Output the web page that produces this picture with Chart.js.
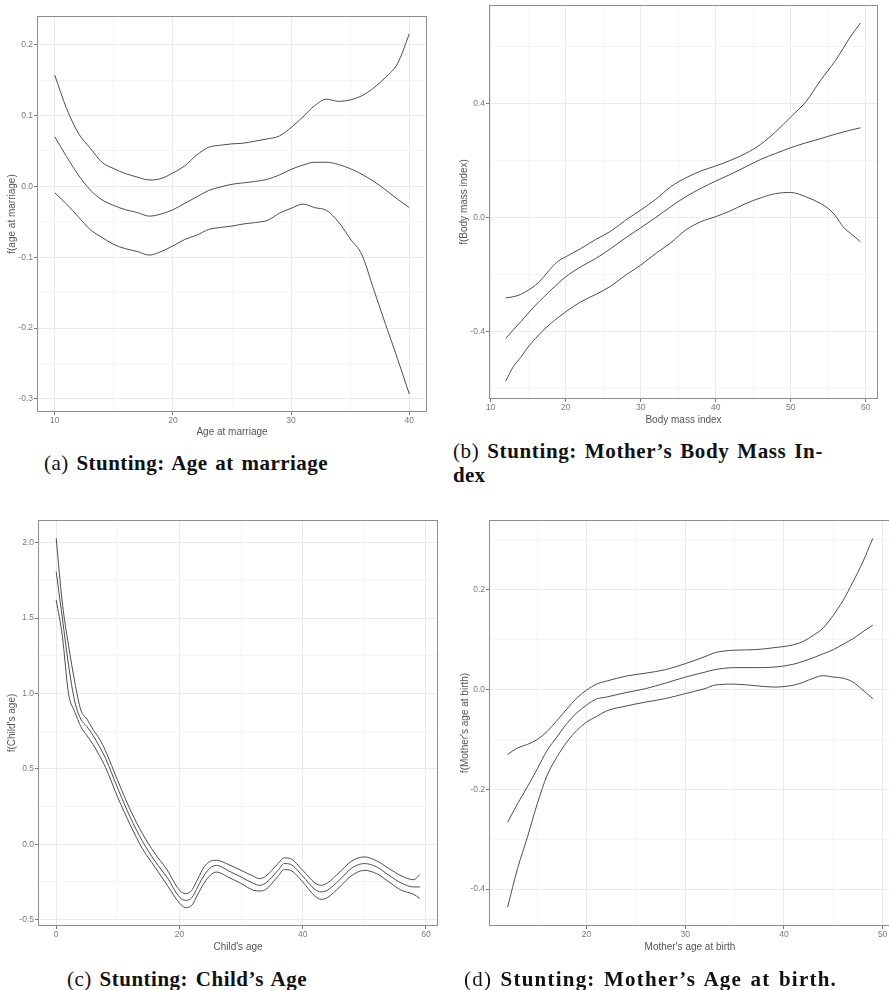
<!DOCTYPE html>
<html>
<head>
<meta charset="utf-8">
<script src="https://cdn.jsdelivr.net/npm/chart.js@4.4.1/dist/chart.umd.min.js"></script>
<style>
html, body { margin: 0; padding: 0; background: #fff; width: 889px; height: 990px; overflow: hidden; }
.panel { position: absolute; }
.cap { position: absolute; font-family: "Liberation Serif", "Times New Roman", serif; font-size: 21px; line-height: 24px; color: #111; white-space: nowrap; letter-spacing: 0.3px; word-spacing: 2px; }
.cap b { font-weight: bold; }
.fit { display: inline-block; }
</style>
</head>
<body>

<div class="panel" style="left:0;top:0;width:440px;height:445px"><canvas id="chartA"></canvas></div>
<div class="panel" style="left:445px;top:-10px;width:445px;height:445px"><canvas id="chartB"></canvas></div>
<div class="panel" style="left:0;top:505px;width:450px;height:450px"><canvas id="chartC"></canvas></div>
<div class="panel" style="left:445px;top:505px;width:460px;height:450px"><canvas id="chartD"></canvas></div>

<div class="cap" style="left:44px;top:451px"><span class="fit" data-w="284">(a) <b>Stunting: Age at marriage</b></span></div>
<div class="cap" style="left:453px;top:439px"><span class="fit" data-w="370">(b) <b>Stunting: Mother’s Body Mass In-</b></span><br><b>dex</b></div>
<div class="cap" style="left:67px;top:967px"><span class="fit" data-w="240">(c) <b>Stunting: Child’s Age</b></span></div>
<div class="cap" style="left:464px;top:967px"><span class="fit" data-w="373">(d) <b>Stunting: Mother’s Age at birth.</b></span></div>

<script>
// (a) age at marriage
const marriageAge = [10, 11, 12, 13, 14, 15, 16, 17, 18, 19, 20, 21, 22, 23, 24, 25, 26, 27, 28, 29, 30, 31, 32, 33, 34, 35, 36, 37, 38, 39, 40];
const marriageUpper = [0.157, 0.110, 0.075, 0.054, 0.034, 0.025, 0.018, 0.013, 0.009, 0.011, 0.019, 0.029, 0.044, 0.055, 0.058, 0.060, 0.061, 0.064, 0.067, 0.071, 0.083, 0.098, 0.114, 0.123, 0.120, 0.122, 0.128, 0.139, 0.154, 0.173, 0.215];
const marriageFit = [0.070, 0.042, 0.016, -0.005, -0.019, -0.027, -0.033, -0.037, -0.042, -0.039, -0.033, -0.024, -0.015, -0.006, -0.001, 0.003, 0.005, 0.007, 0.010, 0.016, 0.024, 0.030, 0.034, 0.034, 0.031, 0.025, 0.017, 0.007, -0.005, -0.018, -0.030];
const marriageLower = [-0.009, -0.025, -0.043, -0.061, -0.072, -0.082, -0.088, -0.092, -0.097, -0.092, -0.084, -0.075, -0.069, -0.061, -0.058, -0.056, -0.053, -0.051, -0.048, -0.038, -0.031, -0.025, -0.030, -0.034, -0.050, -0.074, -0.097, -0.146, -0.195, -0.243, -0.293];

// (b) body mass index
const bmi = [12, 13, 14, 15, 16, 17, 18, 19, 20, 22, 24, 26, 28, 30, 32, 34, 36, 38, 40, 42, 44, 46, 48, 50, 52, 54, 55, 56, 57, 58, 59.3];
const bmiUpper = [-0.281, -0.277, -0.269, -0.254, -0.236, -0.209, -0.178, -0.152, -0.137, -0.108, -0.076, -0.047, -0.008, 0.027, 0.065, 0.109, 0.140, 0.164, 0.182, 0.202, 0.226, 0.258, 0.302, 0.354, 0.407, 0.483, 0.518, 0.553, 0.595, 0.637, 0.684];
const bmiFit = [-0.423, -0.394, -0.365, -0.335, -0.306, -0.280, -0.254, -0.230, -0.207, -0.172, -0.143, -0.108, -0.070, -0.035, 0.001, 0.039, 0.074, 0.103, 0.129, 0.153, 0.179, 0.205, 0.226, 0.246, 0.263, 0.278, 0.286, 0.294, 0.301, 0.308, 0.316];
const bmiLower = [-0.573, -0.523, -0.490, -0.453, -0.423, -0.395, -0.371, -0.350, -0.330, -0.295, -0.269, -0.240, -0.201, -0.166, -0.125, -0.088, -0.043, -0.014, 0.004, 0.025, 0.050, 0.070, 0.085, 0.089, 0.074, 0.050, 0.033, 0.006, -0.032, -0.055, -0.084];

// (c) child's age
const childAge = [0, 1, 2, 3, 4, 5, 6, 7, 8, 10, 12, 14, 16, 18, 20, 21, 22, 23, 24, 25, 26, 28, 30, 32, 33, 34, 36, 37, 38, 40, 42, 43, 44, 46, 48, 50, 52, 54, 56, 58, 59];
const childUpper = [2.029, 1.60, 1.32, 1.08, 0.89, 0.83, 0.76, 0.70, 0.62, 0.42, 0.23, 0.07, -0.06, -0.17, -0.305, -0.327, -0.305, -0.228, -0.15, -0.113, -0.106, -0.135, -0.173, -0.212, -0.228, -0.212, -0.128, -0.09, -0.095, -0.173, -0.257, -0.272, -0.257, -0.184, -0.11, -0.084, -0.11, -0.161, -0.21, -0.235, -0.20];
const childFit = [1.808, 1.50, 1.19, 0.95, 0.83, 0.78, 0.72, 0.65, 0.57, 0.37, 0.18, 0.02, -0.11, -0.22, -0.35, -0.372, -0.354, -0.28, -0.206, -0.157, -0.14, -0.177, -0.217, -0.26, -0.272, -0.257, -0.173, -0.128, -0.133, -0.212, -0.30, -0.316, -0.305, -0.235, -0.157, -0.128, -0.15, -0.206, -0.257, -0.283, -0.283];
const childLower = [1.619, 1.38, 1.0, 0.88, 0.78, 0.72, 0.66, 0.59, 0.51, 0.31, 0.13, -0.03, -0.15, -0.27, -0.39, -0.42, -0.405, -0.33, -0.257, -0.206, -0.184, -0.22, -0.26, -0.305, -0.31, -0.30, -0.212, -0.168, -0.173, -0.25, -0.345, -0.365, -0.354, -0.283, -0.206, -0.173, -0.195, -0.25, -0.305, -0.332, -0.36];

// (d) mother's age at birth
const motherAge = [12, 13, 14, 15, 16, 17, 18, 19, 20, 21, 22, 24, 26, 28, 30, 32, 33, 35, 37, 39, 41, 42, 43, 44, 45, 46, 47, 48, 49];
const motherUpper = [-0.130, -0.117, -0.110, -0.100, -0.084, -0.062, -0.039, -0.017, -0.001, 0.011, 0.017, 0.027, 0.033, 0.040, 0.052, 0.066, 0.074, 0.079, 0.080, 0.084, 0.090, 0.097, 0.109, 0.124, 0.149, 0.179, 0.216, 0.256, 0.303];
const motherFit = [-0.266, -0.229, -0.195, -0.159, -0.122, -0.095, -0.068, -0.047, -0.031, -0.019, -0.015, -0.006, 0.002, 0.013, 0.025, 0.035, 0.040, 0.044, 0.044, 0.045, 0.051, 0.057, 0.064, 0.072, 0.080, 0.091, 0.102, 0.116, 0.129];
const motherLower = [-0.436, -0.359, -0.296, -0.229, -0.172, -0.135, -0.105, -0.082, -0.065, -0.054, -0.043, -0.033, -0.025, -0.018, -0.008, 0.002, 0.009, 0.011, 0.008, 0.005, 0.009, 0.015, 0.023, 0.028, 0.025, 0.023, 0.015, -0.001, -0.018];

// ticks: major (labelled) and minor (grid only)
const xMajorA = [10, 20, 30, 40], xMinorA = [15, 25, 35];
const yMajorA = [-0.3, -0.2, -0.1, 0.0, 0.1, 0.2], yMinorA = [-0.25, -0.15, -0.05, 0.05, 0.15];
const xMajorB = [10, 20, 30, 40, 50, 60], xMinorB = [15, 25, 35, 45, 55];
const yMajorB = [-0.4, 0.0, 0.4], yMinorB = [-0.6, -0.2, 0.2, 0.6];
const xMajorC = [0, 20, 40, 60], xMinorC = [10, 30, 50];
const yMajorC = [-0.5, 0.0, 0.5, 1.0, 1.5, 2.0], yMinorC = [-0.25, 0.25, 0.75, 1.25, 1.75];
const xMajorD = [20, 30, 40, 50], xMinorD = [15, 25, 35, 45];
const yMajorD = [-0.4, -0.2, 0.0, 0.2], yMinorD = [-0.3, -0.1, 0.1, 0.3];

// stretch the captions to the width of the LaTeX ones
document.querySelectorAll('.fit').forEach(el => {
    const w = el.getBoundingClientRect().width;
    const n = el.textContent.length;
    el.style.letterSpacing = (0.3 + (Number(el.dataset.w) - w) / n) + 'px';
});

const frame = {
    id: 'frame',
    afterDatasetsDraw(chart) {
        const a = chart.chartArea, ctx = chart.ctx;
        ctx.save();
        ctx.strokeStyle = '#8e8e8e';
        ctx.lineWidth = 1;
        ctx.strokeRect(Math.round(a.left) + 0.5, Math.round(a.top) + 0.5,
            Math.round(a.right - a.left) - 1, Math.round(a.bottom - a.top) - 1);
        ctx.restore();
    }
};

const lineStyle = { borderColor: '#4d4d4d', borderWidth: 1, pointRadius: 0, fill: false, cubicInterpolationMode: 'monotone' };

function series(xs, ys) {
    return Object.assign({ data: xs.map((x, i) => ({ x: x, y: ys[i] })) }, lineStyle);
}

function axis(opt) {
    const all = opt.major.concat(opt.minor).sort((p, q) => p - q);
    const isMajor = v => opt.major.some(m => Math.abs(m - v) < 1e-9);
    const horiz = opt.horiz;
    return {
        type: 'linear',
        min: opt.min,
        max: opt.max,
        afterBuildTicks: s => { s.ticks = all.map(v => ({ value: v })); },
        afterFit: s => { if (horiz) s.height = opt.size; else s.width = opt.size; },
        ticks: {
            autoSkip: false,
            maxRotation: 0,
            padding: 1,
            color: '#7a7a7a',
            font: { family: 'Liberation Sans, Arial, sans-serif', size: 8.5 },
            callback: v => isMajor(v) ? (opt.digits ? v.toFixed(opt.digits) : String(v)) : ''
        },
        grid: {
            color: c => isMajor(c.tick.value) ? '#ebebeb' : '#f5f5f5',
            tickColor: c => isMajor(c.tick.value) ? '#777' : 'rgba(0,0,0,0)',
            tickLength: 3,
            lineWidth: 1
        },
        border: { display: false },
        title: {
            display: true,
            text: opt.title,
            color: '#555',
            font: { family: 'Liberation Sans, Arial, sans-serif', size: 10 },
            padding: { top: opt.titlePad, bottom: opt.titlePad }
        }
    };
}

function makeChart(id, lines, xAxis, yAxis, pad) {
    new Chart(document.getElementById(id), {
        type: 'line',
        data: { datasets: lines },
        options: {
            responsive: true,
            maintainAspectRatio: false,
            animation: false,
            layout: { padding: pad },
            plugins: { legend: { display: false }, tooltip: { enabled: false } },
            scales: { x: xAxis, y: yAxis }
        },
        plugins: [frame]
    });
}

makeChart('chartA',
    [series(marriageAge, marriageUpper), series(marriageAge, marriageFit), series(marriageAge, marriageLower)],
    axis({ horiz: true, min: 8.5, max: 41.5, major: xMajorA, minor: xMinorA, size: 33, title: 'Age at marriage', titlePad: 7 }),
    axis({ horiz: false, min: -0.3184, max: 0.2404, major: yMajorA, minor: yMinorA, size: 37, digits: 1, title: 'f(age at marriage)', titlePad: 6 }),
    { top: 16, right: 13, left: 0, bottom: 0 });

makeChart('chartB',
    [series(bmi, bmiUpper), series(bmi, bmiFit), series(bmi, bmiLower)],
    axis({ horiz: true, min: 9.77, max: 61.64, major: xMajorB, minor: xMinorB, size: 36, title: 'Body mass index', titlePad: 9 }),
    axis({ horiz: false, min: -0.636, max: 0.747, major: yMajorB, minor: yMinorB, size: 44, digits: 1, title: 'f(Body mass index)', titlePad: 13 }),
    { top: 15, right: 12, left: 0, bottom: 0 });

makeChart('chartC',
    [series(childAge, childUpper), series(childAge, childFit), series(childAge, childLower)],
    axis({ horiz: true, min: -2.95, max: 61.95, major: xMajorC, minor: xMinorC, size: 29, title: 'Child\'s age', titlePad: 2 }),
    axis({ horiz: false, min: -0.542, max: 2.15, major: yMajorC, minor: yMinorC, size: 38, digits: 1, title: 'f(Child\'s age)', titlePad: 6 }),
    { top: 15, right: 12, left: 0, bottom: 0 });

makeChart('chartD',
    [series(motherAge, motherUpper), series(motherAge, motherFit), series(motherAge, motherLower)],
    axis({ horiz: true, min: 10.11, max: 50.85, major: xMajorD, minor: xMinorD, size: 29, title: 'Mother\'s age at birth', titlePad: 2 }),
    axis({ horiz: false, min: -0.474, max: 0.340, major: yMajorD, minor: yMinorD, size: 44, digits: 1, title: 'f(Mother\'s age at birth)', titlePad: 14.7 }),
    { top: 15, right: 14, left: 0, bottom: 0 });
</script>
</body>
</html>
